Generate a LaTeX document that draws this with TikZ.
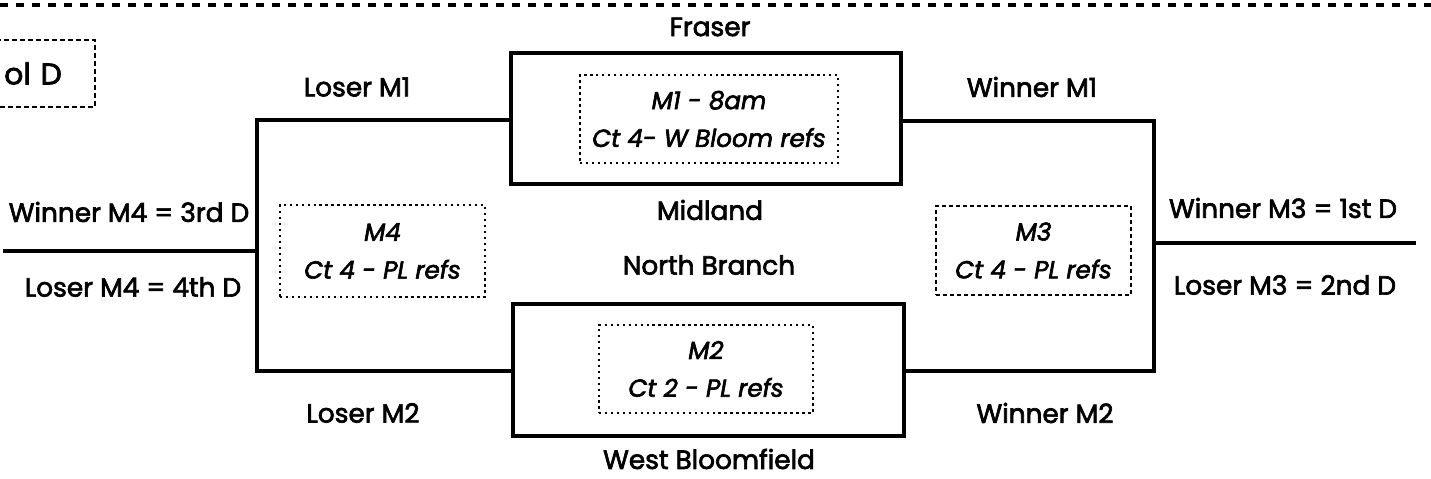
\documentclass[tikz,border=0pt]{standalone}
\usepackage{fontspec}
\setmainfont{Poppins}[
    BoldFont=*, BoldFeatures={FakeBold=2.5},
    BoldItalicFont=* Italic, BoldItalicFeatures={FakeBold=2.5}]
\usetikzlibrary{positioning, calc}

\begin{document}
\begin{tikzpicture}[
    x=0.02cm, y=-0.02cm,
    team/.style={font=\fontsize{15}{18}\selectfont\bfseries},
    result/.style={font=\fontsize{15}{18}\selectfont\bfseries},
    court/.style={
        rectangle,
        draw=black,
        line width=1.8pt
    },
    game/.style={
        rectangle,
        draw=black,
        dotted,
        line width=1.4pt,
        align=center,
        font=\fontsize{14}{21.5}\selectfont\bfseries\itshape
    },
    bracket/.style={line width=2pt, line cap=rect}
]
\useasboundingbox (0,0) rectangle (1431,479);

% === Top rule and pool label ===
\coordinate (ruleL) at (0,5);
\coordinate (ruleR) at (1431,5);
\draw[line width=2pt, dash pattern=on 0.17cm off 0.15cm] (ruleL) -- (ruleR);
\node[draw, line width=1.4pt, dash pattern=on 0.1cm off 0.06cm, anchor=east,
      text width=2.5cm, align=right, inner xsep=0.66cm,
      minimum height=1.34cm, font=\fontsize{17}{19}\selectfont\bfseries]
      (pool) at (96,73.5) {ol D};

% === Match 1: Fraser vs Midland ===
\node[team] (fraser) at (710,27) {Fraser};
\node[court, minimum width=7.8cm, minimum height=2.62cm] (m1) at (706,118.5) {};
\node[game, minimum width=5.16cm, minimum height=1.76cm] (g1) at (709,119)
    {M1 - 8am\\Ct 4- W Bloom refs};
\node[team] (midland) at (710,210) {Midland};

% === Match 2: North Branch vs West Bloomfield ===
\node[team] (northbranch) at (709,265) {North Branch};
\node[court, minimum width=7.82cm, minimum height=2.64cm] (m2) at (708.5,370) {};
\node[game, minimum width=4.28cm, minimum height=1.76cm] (g2) at (706,369)
    {M2\\Ct 2 - PL refs};
\node[team] (westbloom) at (709,459) {West Bloomfield};

% === Losers bracket (M4) ===
\coordinate (lTop) at (257,120);
\coordinate (lBot) at (257,371);
\coordinate (m4R) at (257,251);
\coordinate (m4L) at (5,251);
\draw[bracket] (m1.west |- lTop) -- (lTop) -- (lBot) -- (m2.west |- lBot);
\draw[bracket] (m4L) -- (m4R);
\node[result] (loser1) at (357,87) {Loser M1};
\node[result] (loser2) at (363,413) {Loser M2};
\node[game, minimum width=4.1cm, minimum height=1.84cm] (g4) at (382.5,251)
    {M4\\Ct 4 - PL refs};
\node[result] (third) at (129,212) {Winner M4 = 3rd D};
\node[result] (fourth) at (133,287) {Loser M4 = 4th D};

% === Winners bracket (M3) ===
\coordinate (rTop) at (1154,121);
\coordinate (rBot) at (1154,371);
\coordinate (m3L) at (1154,243);
\coordinate (m3R) at (1414,243);
\draw[bracket] (m1.east |- rTop) -- (rTop) -- (rBot) -- (m2.east |- rBot);
\draw[bracket] (m3L) -- (m3R);
\node[result] (winner1) at (1032,87) {Winner M1};
\node[result] (winner2) at (1045,413) {Winner M2};
\node[game, solid, dash pattern=on 0.08cm off 0.06cm, minimum width=3.9cm,
      minimum height=1.78cm] (g3) at (1033.5,250.5) {M3\\Ct 4 - PL refs};
\node[result] (first) at (1283,208) {Winner M3 = 1st D};
\node[result] (second) at (1285,285) {Loser M3 = 2nd D};

\end{tikzpicture}
\end{document}
